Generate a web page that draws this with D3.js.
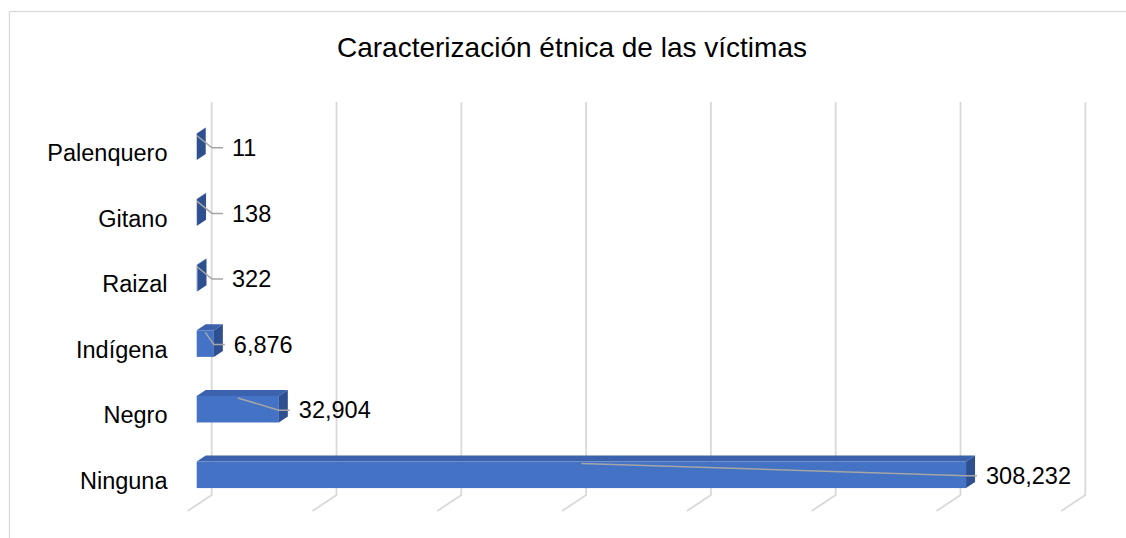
<!DOCTYPE html>
<html>
<head>
<meta charset="utf-8">
<script src="https://cdn.jsdelivr.net/npm/d3@7/dist/d3.min.js"></script>
<style>
  html, body { margin: 0; padding: 0; background: #fff; }
  svg { display: block; font-family: "Liberation Sans", Arial, sans-serif; }
</style>
</head>
<body>
<svg id="chart" width="1126" height="538"></svg>
<script>
// ---- data ----
const title = "Caracterización étnica de las víctimas";
const categories = ["Palenquero", "Gitano", "Raizal", "Indígena", "Negro", "Ninguna"];
const values = [11, 138, 322, 6876, 32904, 308232];
const gridTicks = [0, 50000, 100000, 150000, 200000, 250000, 300000, 350000];

// ---- layout ----
const svg = d3.select("#chart");

const depthX = 9, depthY = -6;       // bar depth projection
const wallX = 15;                     // front of bar -> back wall offset
const floorDX = -24, floorDY = 16;    // floor diagonal below gridlines
const gridTop = 102, gridBottom = 495;

const x = d3.scaleLinear().domain([0, 350000]).range([196.7, 196.7 + 350000 * 0.002496]);
const y = d3.scaleBand().domain(categories).range([114, 507.6]).paddingInner(0.595).paddingOuter(0.2975);

// frame
svg.append("rect")
  .attr("x", 9.5).attr("y", 11.5)
  .attr("width", 1140).attr("height", 540)
  .attr("fill", "none").attr("stroke", "#d9d9d9").attr("stroke-width", 1.3);

// title
svg.append("text")
  .attr("x", 572).attr("y", 57)
  .attr("text-anchor", "middle")
  .attr("font-size", 28).attr("fill", "#000")
  .text(title);

// gridlines (back wall + floor)
const grid = svg.append("g").attr("stroke", "#d9d9d9").attr("stroke-width", 1.8).attr("fill", "none");
gridTicks.forEach(t => {
  const gx = x(t) + wallX;
  grid.append("path")
    .attr("d", `M${gx},${gridTop}L${gx},${gridBottom}L${gx + floorDX},${gridBottom + floorDY}`);
});

// bars
const bars = svg.append("g");
categories.forEach((c, i) => {
  const v = values[i];
  const x0 = x(0), x1 = x(v);
  const yt = y(c), h = y.bandwidth();
  const g = bars.append("g");
  g.append("path")
    .attr("d", `M${x0},${yt}L${x0 + depthX},${yt + depthY}L${x1 + depthX},${yt + depthY}L${x1},${yt}Z`)
    .attr("fill", "#3a62ad");
  g.append("rect")
    .attr("x", x0).attr("y", yt).attr("width", Math.max(0, x1 - x0)).attr("height", h)
    .attr("fill", "#4472c4");
  g.append("path")
    .attr("d", `M${x1},${yt}L${x1 + depthX},${yt + depthY}L${x1 + depthX},${yt + h + depthY}L${x1},${yt + h}Z`)
    .attr("fill", "#2f5090");
});

// category labels
svg.append("g").selectAll("text").data(categories).join("text")
  .attr("x", 167.5)
  .attr("y", d => y(d) + y.bandwidth() / 2 + 6)
  .attr("dy", "0.35em")
  .attr("text-anchor", "end")
  .attr("font-size", 23.5).attr("fill", "#000")
  .text(d => d);

// data labels with leader lines
const fmt = d3.format(",");
const lab = svg.append("g");
categories.forEach((c, i) => {
  const v = values[i];
  const yt = y(c), h = y.bandwidth();
  const midY = yt + h / 2 + 1;
  const lx = Math.max(232, x(v) + 20);
  const sx = (x(0) + x(v)) / 2;
  lab.append("path")
    .attr("d", `M${sx},${yt + 2}L${lx - 20},${midY}L${lx - 9},${midY}`)
    .attr("fill", "none").attr("stroke", "#a6a6a6").attr("stroke-width", 1.5);
  lab.append("text")
    .attr("x", lx).attr("y", midY).attr("dy", "0.35em")
    .attr("font-size", 23.5).attr("fill", "#000")
    .text(fmt(v));
});
</script>
</body>
</html>
